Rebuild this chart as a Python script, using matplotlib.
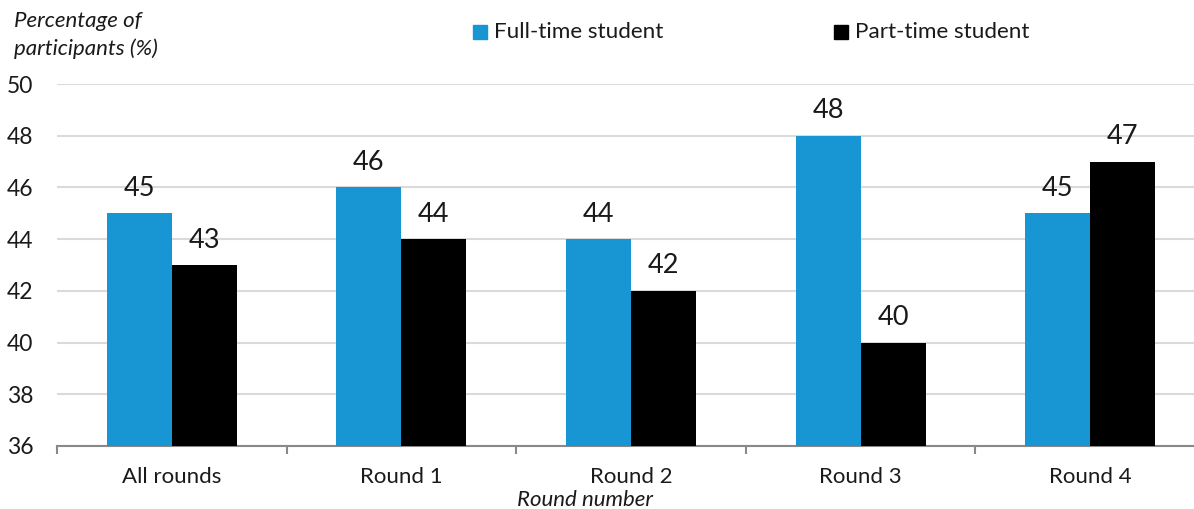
import matplotlib
matplotlib.use("Agg")
import matplotlib.pyplot as plt
from matplotlib.patches import Rectangle
import numpy as np

categories = ["All rounds", "Round 1", "Round 2", "Round 3", "Round 4"]
full_time = [45, 46, 44, 48, 45]
part_time = [43, 44, 42, 40, 47]
series_names = ["Full-time student", "Part-time student"]
colors = ["#1896d4", "#000000"]

plt.rcParams['font.family'] = ['Lato', 'DejaVu Sans']

W, H = 1194, 509
fig = plt.figure(figsize=(W / 100, H / 100), dpi=100)
ax = fig.add_axes([57 / W, 1 - 446 / H, (1205 - 57) / W, (446 - 84) / H])

x = np.arange(len(categories))
bw = 65 / 229.5
b1 = ax.bar(x - bw / 2, full_time, bw, color=colors[0], zorder=3)
b2 = ax.bar(x + bw / 2, part_time, bw, color=colors[1], zorder=3)
for bars, vals in ((b1, full_time), (b2, part_time)):
    for r, v in zip(bars, vals):
        ax.annotate(f"{v}", (r.get_x() + r.get_width() / 2, v), xytext=(0, 9),
                    textcoords="offset points", ha="center", va="bottom",
                    fontsize=19.5, color="#1a1a1a")

ax.set_ylim(36, 50)
ax.set_xlim(-0.5, len(categories) - 0.5)
ax.set_yticks(range(36, 51, 2))
ax.yaxis.grid(True, color="#dadada", linewidth=1.5, zorder=0)
ax.set_axisbelow(True)
for s in ("left", "right", "top"):
    ax.spines[s].set_visible(False)
ax.spines["bottom"].set_color("#898989")
ax.spines["bottom"].set_linewidth(1.5)
ax.tick_params(axis="y", length=0, labelsize=16.5, pad=17, colors="#1a1a1a")
ax.set_xticks(x)
ax.set_xticklabels(categories)
ax.tick_params(axis="x", length=0, labelsize=16, pad=15, colors="#1a1a1a")
ax.set_xticks(np.arange(len(categories) + 1) - 0.5, minor=True)
ax.tick_params(axis="x", which="minor", length=6, width=1.5, color="#898989", direction="out")

fig.text(14 / W, 1 - 35 / H, "Percentage of\nparticipants (%)", fontsize=16, style="italic",
         ha="left", va="center", linespacing=1.4, color="#1a1a1a")
fig.text(585 / W, 1 - 500 / H, "Round number", fontsize=16, style="italic",
         ha="center", va="center", color="#1a1a1a")

# legend
for lx, c, name in ((473, colors[0], series_names[0]), (834, colors[1], series_names[1])):
    fig.patches.append(Rectangle((lx / W, 1 - 39 / H), 14 / W, 14 / H, color=c,
                                 transform=fig.transFigure, figure=fig))
    fig.text((lx + 21) / W, 1 - 32 / H, name, fontsize=16.2, ha="left", va="center", color="#1a1a1a")

fig.savefig("out.png", dpi=100)
